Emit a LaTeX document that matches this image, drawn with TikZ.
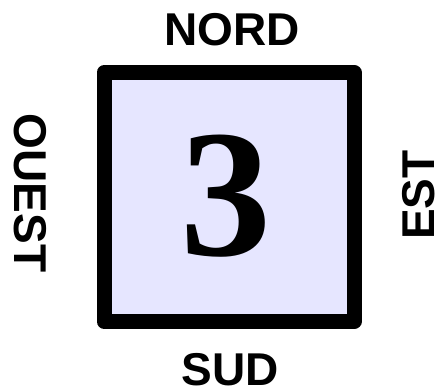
\documentclass[tikz,border=0pt]{standalone}
\usepackage{fontspec}
\setmainfont{Liberation Serif}
\setsansfont{Liberation Sans}
\definecolor{boxfill}{RGB}{230,230,255}
\begin{document}
\begin{tikzpicture}[x=1pt,y=1pt,
  label/.style={font=\sffamily\bfseries\fontsize{46}{46}\selectfont, inner sep=0pt},
  square/.style={draw=black, line width=15pt, line join=round, fill=boxfill,
    minimum width=250pt, minimum height=249pt, inner sep=0pt}]
\useasboundingbox (0,0) rectangle (440,391);
\node[square] (box) at (229,194) {};
\node[inner sep=0pt, font=\bfseries\fontsize{182}{182}\selectfont] (num) at (226,195) {3};
\node[label] (nord) at (232,361) {NORD};
\node[label] (sud) at (230,21) {SUD};
\node[label, rotate=-90] (ouest) at (30,198) {OUEST};
\node[label, rotate=90] (est) at (419,196) {EST};
\end{tikzpicture}
\end{document}
